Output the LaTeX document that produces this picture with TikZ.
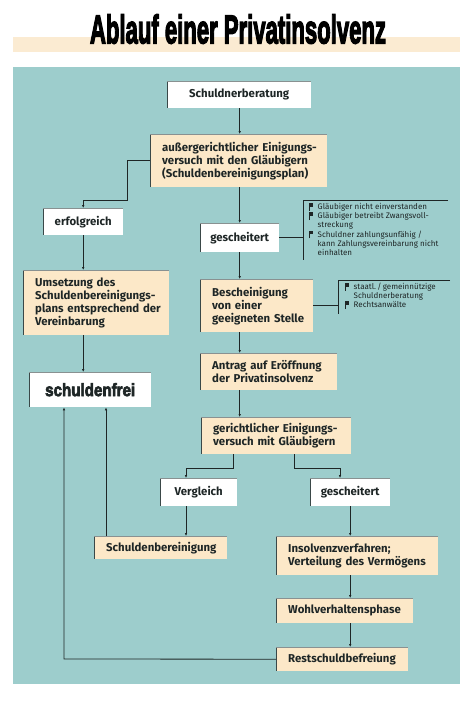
\documentclass[tikz,border=0pt]{standalone}
\usepackage{fontspec}
\usepackage{graphicx}
\setmainfont{Fira Sans}
\newfontfamily\titlefont{Liberation Sans}[BoldFeatures={FakeBold=4}]
\usetikzlibrary{arrows.meta}
\definecolor{lagoon}{HTML}{9DCDCC}
\definecolor{cream}{HTML}{FCE8C8}
\definecolor{band}{HTML}{FBEBD2}
\definecolor{edge}{HTML}{3A4848}
\definecolor{ink}{HTML}{1E2626}
\newcommand{\flagmark}{\rule[-0.25ex]{0.9pt}{1.8ex}\rule[0.75ex]{2.6pt}{0.8ex}}
\tikzset{
	box/.style={anchor=north west, inner xsep=12pt, inner ysep=0pt, align=left, text=ink,
		font=\fontsize{11.4}{13}\selectfont\bfseries,
		execute at begin node={\hyphenpenalty=10000\rightskip=0pt plus 1fil minus 200pt\relax},
		path picture={
			\draw[line width=1.8pt, edge] (path picture bounding box.north west) -- (path picture bounding box.south west);
			\draw[line width=1.2pt, edge!60] (path picture bounding box.north west) -- (path picture bounding box.north east);
		}},
	whitebox/.style={box, fill=white, align=center, inner xsep=6pt},
	creambox/.style={box, fill=cream},
	note/.style={anchor=north west, inner sep=0pt, text=ink, font=\fontsize{8}{9}\selectfont},
	link/.style={draw=ink, line width=0.8pt},
}
\begin{document}
\begin{tikzpicture}[x=1pt, y=-1pt, >={Latex[length=3pt,width=2.6pt]}]
	\useasboundingbox (0,0) rectangle (474,702);
	\fill[band] (13,37) rectangle (460,52);
	\fill[lagoon] (13,67) rectangle (460,684);
	\node[inner sep=0pt] (title) at (238,29) {\resizebox{296pt}{29pt}{\titlefont\bfseries Ablauf einer Privatinsolvenz}};

	\node[whitebox, minimum width=144pt, minimum height=27pt] (sb) at (167,81) {Schuldnerberatung};
	\node[creambox, text width=153pt, minimum height=53pt] (aev) at (150,134) {außergerichtlicher Einigungs-\\versuch mit den Gläubigern\\(Schuldenbereinigungsplan)};
	\node[whitebox, minimum width=80pt, minimum height=27pt] (erf) at (43,208) {erfolgreich};
	\node[whitebox, minimum width=79pt, minimum height=29pt] (gs1) at (200,223) {gescheitert};
	\node[creambox, text width=122pt, minimum height=65pt] (ums) at (23,270) {Umsetzung des\\Schuldenbereinigungs-\\plans entsprechend der\\Vereinbarung};
	\node[creambox, text width=89pt, minimum height=53pt] (besch) at (200,279) {Bescheinigung\\von einer\\geeigneten Stelle};
	\node[whitebox, minimum width=122pt, minimum height=35pt] (sf) at (29,372) {\resizebox{90pt}{13pt}{\titlefont\bfseries schuldenfrei}};
	\node[creambox, text width=113pt, minimum height=37pt] (antrag) at (200,353) {Antrag auf Eröffnung\\der Privatinsolvenz};
	\node[creambox, text width=126pt, minimum height=37pt] (gerl) at (201,417) {gerichtlicher Einigungs-\\versuch mit Gläubigern};
	\node[whitebox, minimum width=77pt, minimum height=28pt] (vgl) at (160,478) {Vergleich};
	\node[whitebox, minimum width=80pt, minimum height=28pt] (gs2) at (310,478) {gescheitert};
	\node[creambox, text width=109pt, minimum height=23pt] (sbein) at (94,536) {Schuldenbereinigung};
	\node[creambox, text width=138pt, minimum height=39pt] (insolv) at (276,536) {Insolvenzverfahren;\\Verteilung des Vermögens};
	\node[creambox, text width=113pt, minimum height=25pt] (wohl) at (276,598) {Wohlverhaltensphase};
	\node[creambox, text width=108pt, minimum height=24pt] (rest) at (276,647) {Restschuldbefreiung};

	\node[note] (why) at (309,203) {\begin{tabular}{@{}l@{\hspace{5pt}}l@{}}
		\flagmark & Gläubiger nicht einverstanden\\
		\flagmark & Gläubiger betreibt Zwangsvoll-\\
		 & streckung\\
		\flagmark & Schuldner zahlungsunfähig /\\
		 & kann Zahlungsvereinbarung nicht\\
		 & einhalten
	\end{tabular}};
	\node[note] (who) at (345,283) {\begin{tabular}{@{}l@{\hspace{5pt}}l@{}}
		\flagmark & staatl.\,/\,gemeinnützige\\
		 & Schuldnerberatung\\
		\flagmark & Rechtsanwälte
	\end{tabular}};

	\coordinate (k1) at (127,200);
	\coordinate (n1t) at (303,200);
	\coordinate (n1b) at (303,260);
	\coordinate (n1r) at (448,200);
	\coordinate (n2t) at (338,280);
	\coordinate (n2b) at (338,314);
	\coordinate (n2r) at (450,280);
	\coordinate (sl) at (233,468);
	\coordinate (sr) at (294,468);
	\coordinate (vin) at (186,478);
	\coordinate (gin) at (340,478);
	\coordinate (fl) at (64,659);

	\draw[link, ->] (sb.south -| gs1.north) -- (aev.north -| gs1.north);
	\draw[link, ->] (aev.west) -| (k1) -| (erf.north);
	\draw[link, ->] (aev.south -| gs1.north) -- (gs1.north);
	\draw[link] (gs1.east) -- (gs1.east -| n1t);
	\draw[link] (n1r) -- (n1t) -- (n1b);
	\draw[link, ->] (gs1.south) -- (gs1.south |- besch.north);
	\draw[link] (besch.east) -- (besch.east -| n2t);
	\draw[link] (n2r) -- (n2t) -- (n2b);
	\draw[link, ->] (gs1.south |- besch.south) -- (gs1.south |- antrag.north);
	\draw[link, ->] (gs1.south |- antrag.south) -- (gs1.south |- gerl.north);
	\draw[link, ->] (erf.south) -- (erf.south |- ums.north);
	\draw[link, ->] (erf.south |- ums.south) -- (erf.south |- sf.north);
	\draw[link, ->] (sl |- gerl.south) -- (sl) -| (vin);
	\draw[link, ->] (sr |- gerl.south) -- (sr) -| (gin);
	\draw[link, ->] (vgl.south -| vin) -- (sbein.north -| vin);
	\draw[link, ->] (gs2.south) -- (gs2.south |- insolv.north);
	\draw[link, ->] (gs2.south |- insolv.south) -- (gs2.south |- wohl.north);
	\draw[link, ->] (gs2.south |- wohl.south) -- (gs2.south |- rest.north);
	\draw[link, ->] ([xshift=12pt]sbein.north west) -- ([xshift=12pt]sbein.north west |- sf.south);
	\draw[link, ->] (rest.west) -- (fl) -- (fl |- sf.south);
\end{tikzpicture}
\end{document}
